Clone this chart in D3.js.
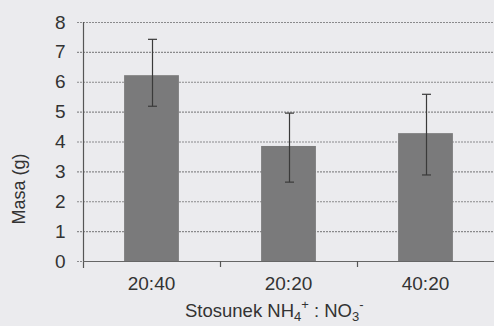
<!DOCTYPE html>
<html><head><meta charset="utf-8">
<script src="https://cdn.jsdelivr.net/npm/d3@7"></script>
<style>
html,body{margin:0;padding:0;background:#ebebee;}
svg{display:block;font-family:'Liberation Sans',Arial,sans-serif;}
</style></head>
<body>
<svg id="c" width="494" height="326"></svg>
<script>
const categories = ["20:40", "20:20", "40:20"];
const values = [6.22, 3.85, 4.28];
const errLow = [5.18, 2.64, 2.88];
const errHigh = [7.42, 4.95, 5.58];
const yTicks = [0, 1, 2, 3, 4, 5, 6, 7, 8];

const FONT = "'Liberation Sans', Arial, sans-serif";
const svg = d3.select("#c");
const mLeft = 83, mRight = 494, mTop = 22, mBottom = 261;

const x = d3.scaleBand().domain(categories).range([mLeft, mRight]).paddingInner(0.6).paddingOuter(0.3);
const xb = d3.scaleBand().domain(categories).range([mLeft, mRight]);
const y = d3.scaleLinear().domain([0, 8]).range([mBottom, mTop]);

// gridlines
svg.append("g").selectAll("line").data(yTicks).join("line")
  .attr("x1", mLeft - 6).attr("x2", mRight)
  .attr("y1", d => y(d) + 0.5).attr("y2", d => y(d) + 0.5)
  .attr("stroke", "#8a8a8c").attr("stroke-width", 1.2).attr("stroke-dasharray", "2,1");

// bars
svg.append("g").selectAll("rect").data(values).join("rect")
  .attr("x", (d, i) => x(categories[i]))
  .attr("width", x.bandwidth())
  .attr("y", d => y(d))
  .attr("height", d => y(0) - y(d))
  .attr("fill", "#7a7a7b");

// error bars
const eb = svg.append("g").attr("stroke", "#3a3a3a").attr("stroke-width", 1.2);
categories.forEach((c, i) => {
  const cx = Math.round(x(c) + x.bandwidth() / 2) + 0.5;
  eb.append("line").attr("x1", cx).attr("x2", cx).attr("y1", y(errHigh[i])).attr("y2", y(errLow[i]));
  eb.append("line").attr("x1", cx - 4.5).attr("x2", cx + 4.5).attr("y1", y(errHigh[i])).attr("y2", y(errHigh[i]));
  eb.append("line").attr("x1", cx - 4.5).attr("x2", cx + 4.5).attr("y1", y(errLow[i])).attr("y2", y(errLow[i]));
});

// y axis
const ya = svg.append("g").attr("transform", `translate(${mLeft + 0.5},0)`)
  .call(d3.axisLeft(y).tickValues(yTicks).tickSize(0).tickPadding(18));
ya.select(".domain").remove();
ya.selectAll("text").attr("font-size", 19).attr("fill", "#333").attr("font-family", FONT);
svg.append("line").attr("x1", mLeft + 0.5).attr("x2", mLeft + 0.5).attr("y1", mTop).attr("y2", mBottom + 7)
  .attr("stroke", "#555").attr("stroke-width", 1.2);

// x axis
svg.append("line").attr("x1", mLeft).attr("x2", mRight).attr("y1", mBottom + 0.5).attr("y2", mBottom + 0.5)
  .attr("stroke", "#666").attr("stroke-width", 1.2);
const xa = svg.append("g").attr("transform", `translate(0,${mBottom})`)
  .call(d3.axisBottom(xb).tickSize(0).tickPadding(16));
xa.select(".domain").remove();
xa.selectAll("text").attr("font-size", 19).attr("fill", "#333").attr("font-family", FONT);
// category separator ticks
svg.append("g").selectAll("line").data(categories.slice(1)).join("line")
  .attr("x1", d => Math.round(xb(d)) + 0.5).attr("x2", d => Math.round(xb(d)) + 0.5)
  .attr("y1", mBottom).attr("y2", mBottom + 6).attr("stroke", "#555").attr("stroke-width", 1.2);

// axis titles
const xt = svg.append("text").attr("x", 185).attr("y", 317).attr("text-anchor", "start")
  .attr("font-size", 18.5).attr("fill", "#333").attr("font-family", FONT);
xt.append("tspan").text("Stosunek NH");
xt.append("tspan").text("4").attr("font-size", 13).attr("dy", 4);
xt.append("tspan").text("+").attr("font-size", 13).attr("dy", -12);
xt.append("tspan").text(" : NO").attr("dy", 8);
xt.append("tspan").text("3").attr("font-size", 13).attr("dy", 4);
xt.append("tspan").text("-").attr("font-size", 13).attr("dy", -12);

svg.append("text").attr("transform", "translate(25,189) rotate(-90)").attr("text-anchor", "middle")
  .attr("font-size", 18).attr("fill", "#333").attr("font-family", FONT).text("Masa (g)");
</script>
</body></html>
